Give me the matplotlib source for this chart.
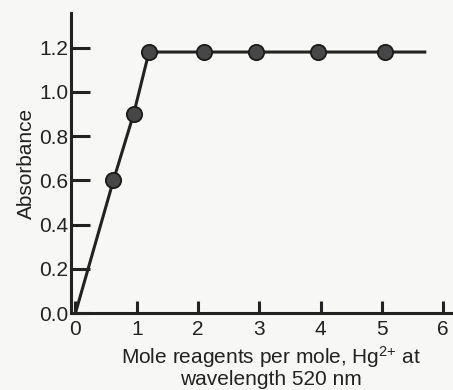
import matplotlib
matplotlib.use('Agg')
import matplotlib.pyplot as plt

# Mole-ratio titration, Hg2+ complex read at 520 nm
ratio = [0.62, 0.95, 1.2, 2.1, 2.95, 3.95, 5.05]
absorbance = [0.60, 0.90, 1.18, 1.18, 1.18, 1.18, 1.18]

# the drawn line starts at the origin and runs a little past the last point
line_x = [0.0] + ratio + [5.7]
line_y = [0.0] + absorbance + [1.18]

x_ticks = [0, 1, 2, 3, 4, 5, 6]
y_ticks = [0.0, 0.2, 0.4, 0.6, 0.8, 1.0, 1.2]
y_tick_labels = ['0.0', '0.2', '0.4', '0.6', '0.8', '1.0', '1.2']

plt.rcParams['font.family'] = ['Liberation Sans', 'DejaVu Sans']
plt.rcParams['mathtext.fontset'] = 'custom'
plt.rcParams['mathtext.rm'] = 'Liberation Sans'
plt.rcParams['mathtext.it'] = 'Liberation Sans'

ink = '#222222'
paper = '#f7f7f5'

fig = plt.figure(figsize=(4.53, 3.90), dpi=100, facecolor=paper)
ax = fig.add_axes([0.157, 0.197, 0.843, 0.77])
ax.set_facecolor(paper)

ax.plot(line_x, line_y, color=ink, lw=2.2, zorder=2)
ax.plot(ratio, absorbance, 'o', ms=11, mfc='#474747', mec='#1a1a1a',
        mew=1.3, zorder=3)

ax.set_xlim(-0.07, 6.16)
ax.set_ylim(0, 1.357)

for side in ('top', 'right'):
    ax.spines[side].set_visible(False)
for side in ('left', 'bottom'):
    ax.spines[side].set_color(ink)
    ax.spines[side].set_linewidth(2.2)

ax.set_xticks(x_ticks)
ax.set_yticks(y_ticks)
ax.set_yticklabels(y_tick_labels)
ax.tick_params(axis='x', direction='in', length=8.5, width=2.2, color=ink,
               pad=5, labelsize=15, labelcolor=ink)
ax.tick_params(axis='y', direction='in', length=13.5, width=2.2, color=ink,
               pad=2, labelsize=15, labelcolor=ink)

ax.set_ylabel('Absorbance', fontsize=15, color=ink, labelpad=2)
ax.set_xlabel('Mole reagents per mole, Hg$^{2{+}}$ at\nwavelength 520 nm',
              fontsize=15, color=ink, linespacing=1.0)
ax.xaxis.set_label_coords(0.524, -0.103, transform=ax.transAxes)
ax.xaxis.label.set_va('top')

fig.savefig('out.png', dpi=100, facecolor=paper)
